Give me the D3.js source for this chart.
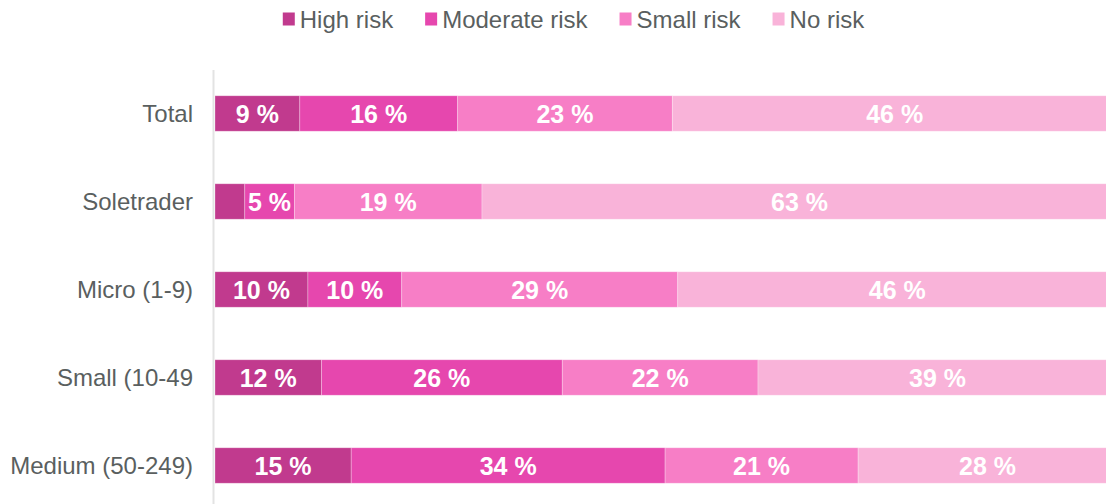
<!DOCTYPE html>
<html>
<head>
<meta charset="utf-8">
<script src="https://cdn.jsdelivr.net/npm/d3@7"></script>
<style>
  html, body { margin: 0; padding: 0; background: #fff; overflow: hidden; }
  svg { display: block; font-family: "Liberation Sans", Arial, sans-serif; }
</style>
</head>
<body>
<svg id="chart" width="1106" height="504"></svg>
<script>
const categories = ["Total", "Soletrader", "Micro (1-9)", "Small (10-49", "Medium (50-249)"];
const seriesNames = ["High risk", "Moderate risk", "Small risk", "No risk"];
const seriesColors = ["#c13a8e", "#e647ae", "#f77ec6", "#f9b3d9"];
// shares (percent of full bar)
const highRisk     = [9.4, 3.3, 10.3, 11.8, 15.1];
const moderateRisk = [17.5, 5.5, 10.4, 26.7, 34.8];
const smallRisk    = [23.8, 20.8, 30.6, 21.7, 21.4];
const noRisk       = [49.3, 70.4, 48.7, 39.8, 28.7];
// printed labels
const highLabels     = ["9 %", "", "10 %", "12 %", "15 %"];
const moderateLabels = ["16 %", "5 %", "10 %", "26 %", "34 %"];
const smallLabels    = ["23 %", "19 %", "29 %", "22 %", "21 %"];
const noLabels       = ["46 %", "63 %", "46 %", "39 %", "28 %"];

const seriesValues = [highRisk, moderateRisk, smallRisk, noRisk];
const seriesLabels = [highLabels, moderateLabels, smallLabels, noLabels];

const rows = categories.map((c, i) => {
  const r = { category: c };
  seriesNames.forEach((s, j) => { r[s] = seriesValues[j][i]; });
  return r;
});

const stack = d3.stack().keys(seriesNames).offset(d3.stackOffsetExpand);
const layers = stack(rows);

const svg = d3.select("#chart");
const x = d3.scaleLinear().domain([0, 1]).range([215, 1117]);
const y = d3.scaleBand().domain(categories).range([69.5, 509.5])
  .paddingInner(0.597).paddingOuter(0.2985);

// vertical axis line
svg.append("line")
  .attr("x1", 213.5).attr("x2", 213.5)
  .attr("y1", 70).attr("y2", 504)
  .attr("stroke", "#e3e3e3").attr("stroke-width", 2);

const g = svg.append("g");
layers.forEach((layer, j) => {
  const lg = g.append("g");
  lg.selectAll("rect").data(layer).enter().append("rect")
    .attr("x", d => x(d[0]))
    .attr("y", d => y(d.data.category))
    .attr("width", d => x(d[1]) - x(d[0]))
    .attr("height", y.bandwidth())
    .attr("fill", seriesColors[j])
    .attr("stroke", "#ffffff").attr("stroke-opacity", 0.35).attr("stroke-width", 0.8);
  lg.selectAll("text").data(layer).enter().append("text")
    .attr("x", d => (x(d[0]) + x(d[1])) / 2)
    .attr("y", d => y(d.data.category) + y.bandwidth() / 2)
    .attr("dy", "0.36em")
    .attr("text-anchor", "middle")
    .attr("fill", "#ffffff")
    .attr("font-weight", "bold")
    .attr("font-size", 25)
    .text((d, i) => seriesLabels[j][i]);
});

// category labels
svg.append("g").selectAll("text").data(categories).enter().append("text")
  .attr("x", 193)
  .attr("y", d => y(d) + y.bandwidth() / 2)
  .attr("dy", "0.36em")
  .attr("text-anchor", "end")
  .attr("fill", "#5a5f5f")
  .attr("font-size", 24)
  .text(d => d);

// legend
const legend = svg.append("g");
const items = legend.selectAll("g").data(seriesNames).enter().append("g");
items.append("rect").attr("width", 12).attr("height", 13).attr("y", -6.5)
  .attr("fill", (d, i) => seriesColors[i]);
items.append("text").attr("x", 17).attr("dy", "0.36em")
  .attr("fill", "#5a5f5f").attr("font-size", 24).text(d => d);
let cx = 0;
items.each(function () {
  const w = 17 + d3.select(this).select("text").node().getComputedTextLength();
  d3.select(this).attr("transform", `translate(${cx},19)`);
  cx += w + 32;
});
const totalW = cx - 32;
legend.attr("transform", `translate(${573.5 - totalW / 2},0)`);
</script>
</body>
</html>
